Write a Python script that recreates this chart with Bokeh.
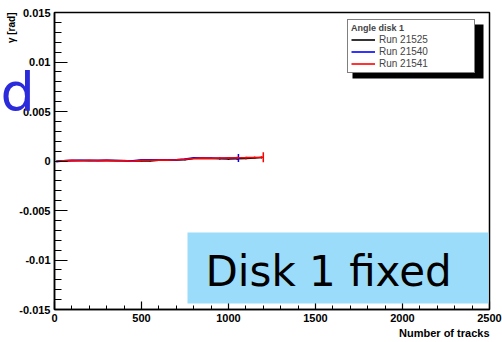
from bokeh.plotting import figure
from bokeh.models import Range1d, FixedTicker, Label, BoxAnnotation, Legend, LegendItem, Title
from bokeh.core.properties import value
from bokeh.embed import file_html
from bokeh.resources import INLINE

# ---------------- data ----------------
legend_title = "Angle disk 1"
run_names = ["Run 21525", "Run 21540", "Run 21541"]
run_colors = ["black", "blue", "red"]

tracks_21525 = [10, 50, 100, 150, 200, 250, 300, 350, 400, 450, 500, 550, 600,
                650, 700, 750, 800, 850, 900, 950, 1000, 1050, 1100, 1150, 1190]
gamma_21525 = [-0.00003, 0.00003, 0.00005, 0.00005, 0.00004, 0.00005, 0.00005,
               0.00004, 0.00003, 0.00000, 0.00001, 0.00000, 0.00008, 0.00010,
               0.00010, 0.00012, 0.00026, 0.00028, 0.00025, 0.00022, 0.00020,
               0.00022, 0.00025, 0.00030, 0.00036]
err_21525 = [0.00003, 0.00003, 0.00003, 0.00003, 0.00003, 0.00003, 0.00003,
             0.00003, 0.00003, 0.00003, 0.00003, 0.00003, 0.00004, 0.00004,
             0.00004, 0.00004, 0.00005, 0.00005, 0.00006, 0.00008, 0.00010,
             0.00010, 0.00008, 0.00008, 0.00010]

tracks_21540 = [10, 50, 100, 150, 200, 250, 300, 350, 400, 450, 500, 550, 600,
                650, 700, 750, 800, 850, 900, 950, 1000, 1057]
gamma_21540 = [-0.00006, 0.00001, 0.00004, 0.00006, 0.00005, 0.00004, 0.00006,
               0.00005, 0.00003, 0.00001, 0.00012, 0.00011, 0.00012, 0.00011,
               0.00013, 0.00020, 0.00032, 0.00031, 0.00030, 0.00028, 0.00030,
               0.00030]
err_21540 = [0.00003, 0.00003, 0.00003, 0.00003, 0.00003, 0.00003, 0.00003,
             0.00003, 0.00003, 0.00003, 0.00003, 0.00003, 0.00004, 0.00004,
             0.00004, 0.00004, 0.00005, 0.00005, 0.00006, 0.00008, 0.00010,
             0.00040]

tracks_21541 = [10, 50, 100, 150, 200, 250, 300, 350, 400, 450, 500, 550, 600,
                650, 700, 750, 800, 850, 900, 950, 1000, 1050, 1100, 1150, 1200]
gamma_21541 = [-0.00005, 0.00002, 0.00006, 0.00003, 0.00007, 0.00004, 0.00006,
               0.00002, 0.00004, -0.00003, 0.00006, 0.00008, 0.00010, 0.00009,
               0.00012, 0.00018, 0.00026, 0.00029, 0.00027, 0.00030, 0.00031,
               0.00033, 0.00034, 0.00036, 0.00038]
err_21541 = [0.00003, 0.00003, 0.00003, 0.00003, 0.00003, 0.00003, 0.00003,
             0.00003, 0.00003, 0.00003, 0.00003, 0.00003, 0.00004, 0.00004,
             0.00004, 0.00004, 0.00005, 0.00005, 0.00006, 0.00008, 0.00010,
             0.00010, 0.00010, 0.00010, 0.00050]

x_ticks = [0, 500, 1000, 1500, 2000, 2500]
x_minor = [0, 100, 200, 300, 400, 500, 600, 700, 800, 900, 1000, 1100, 1200, 1300,
           1400, 1500, 1600, 1700, 1800, 1900, 2000, 2100, 2200, 2300, 2400, 2500]
y_ticks = [-0.015, -0.01, -0.005, 0.0, 0.005, 0.01, 0.015]
y_tick_labels = ["-0.015", "-0.01", "-0.005", "0", "0.005", "0.01", "0.015"]
y_minor = [-0.015, -0.014, -0.013, -0.012, -0.011, -0.010, -0.009, -0.008, -0.007,
           -0.006, -0.005, -0.004, -0.003, -0.002, -0.001, 0.0, 0.001, 0.002, 0.003,
           0.004, 0.005, 0.006, 0.007, 0.008, 0.009, 0.010, 0.011, 0.012, 0.013,
           0.014, 0.015]

# ---------------- layout ----------------
W, H = 502, 342
BL, BR, BT, BB = 54, 13, 12, 33
XMIN, XMAX, YMIN, YMAX = 0, 2500, -0.015, 0.015
FW, FH = W - BL - BR, H - BT - BB


def px_x(px):
    return XMIN + (px - BL) / FW * (XMAX - XMIN)


def px_y(py):
    return YMAX - (py - BT) / FH * (YMAX - YMIN)


p = figure(width=W, height=H, x_range=Range1d(XMIN, XMAX), y_range=Range1d(YMIN, YMAX),
           output_backend="svg", toolbar_location=None,
           min_border_left=BL, min_border_right=BR, min_border_top=BT, min_border_bottom=BB)
p.xgrid.visible = False
p.ygrid.visible = False
p.outline_line_color = "black"
p.outline_line_width = 1.5
p.background_fill_color = "white"
p.border_fill_color = "white"

FONT = "Liberation Sans"
p.xaxis.ticker = FixedTicker(ticks=x_ticks, minor_ticks=x_minor)
p.yaxis.ticker = FixedTicker(ticks=y_ticks, minor_ticks=y_minor)
p.yaxis.major_label_overrides = {t: l for t, l in zip(y_ticks, y_tick_labels)}
for ax, mj, mn in ((p.xaxis, 8, 4), (p.yaxis, 13, 7)):
    ax.major_tick_in = mj
    ax.major_tick_out = 0
    ax.minor_tick_in = mn
    ax.minor_tick_out = 0
    ax.axis_line_width = 1.5
    ax.major_tick_line_width = 1.2
    ax.minor_tick_line_width = 1
    ax.major_label_text_font = FONT
    ax.major_label_text_font_style = "bold"
    ax.major_label_text_font_size = "11px"
    ax.major_label_text_color = "black"
    ax.major_label_standoff = 4

# axis titles as side-panel titles (right / top aligned like ROOT)
p.add_layout(Title(text="Number of tracks", align="right", text_font=FONT,
                   text_font_style="bold", text_font_size="11px", text_color="black",
                   standoff=0, offset=0), "below")
p.add_layout(Title(text="\u03b3 [rad]", align="right", text_font=FONT,
                   text_font_style="bold", text_font_size="10px", text_color="black",
                   standoff=0, offset=0), "left")

# legend shadow
p.add_layout(BoxAnnotation(left=px_x(352), right=px_x(483), top=px_y(24), bottom=px_y(78),
                           fill_color="black", fill_alpha=1.0, line_color=None, level="annotation"))

series = [(tracks_21525, gamma_21525, err_21525),
          (tracks_21540, gamma_21540, err_21540),
          (tracks_21541, gamma_21541, err_21541)]
items = []
for (tx, gy, ge), name, col in zip(series, run_names, run_colors):
    r = p.line(tx, gy, line_color=col, line_width=1.6)
    p.segment(x0=tx, x1=tx, y0=[g - e for g, e in zip(gy, ge)],
              y1=[g + e for g, e in zip(gy, ge)], line_color=col, line_width=1.5)
    items.append(LegendItem(label=name, renderers=[r]))

legend = Legend(items=items, title=legend_title, location=(347 - BL, H - BB - 73),
                title_text_font=FONT, title_text_font_style="bold", title_text_font_size="9px",
                label_text_font=FONT, label_text_font_size="10px",
                glyph_width=24, glyph_height=11, label_height=11, label_width=92, spacing=1,
                padding=3, margin=0, label_standoff=4, title_standoff=1,
                border_line_color="black", border_line_width=1.5,
                background_fill_color="white", background_fill_alpha=1.0)
p.add_layout(legend)

# slide overlay
p.add_layout(BoxAnnotation(left=px_x(187), right=px_x(488), top=px_y(232), bottom=px_y(303),
                           fill_color="#9adcfa", fill_alpha=1.0, line_color=None, level="overlay"))
p.add_layout(Label(x=px_x(205), y=px_y(271), text="Disk 1 fixed", text_align="left",
                   text_baseline="middle", text_font="DejaVu Sans",
                   text_font_size="42px", text_color="black", level="overlay"))

# large blue letter at the left edge (drawn as overlay glyph, outside the frame)
p.text(x=[px_x(0)], y=[px_y(92)], text=["d"], text_align="left", text_baseline="middle",
       text_font=value("DejaVu Sans"), text_font_size="54px", text_color="#2b2bdc",
       level="overlay")

open("out.html", "w").write(file_html(p, INLINE))
